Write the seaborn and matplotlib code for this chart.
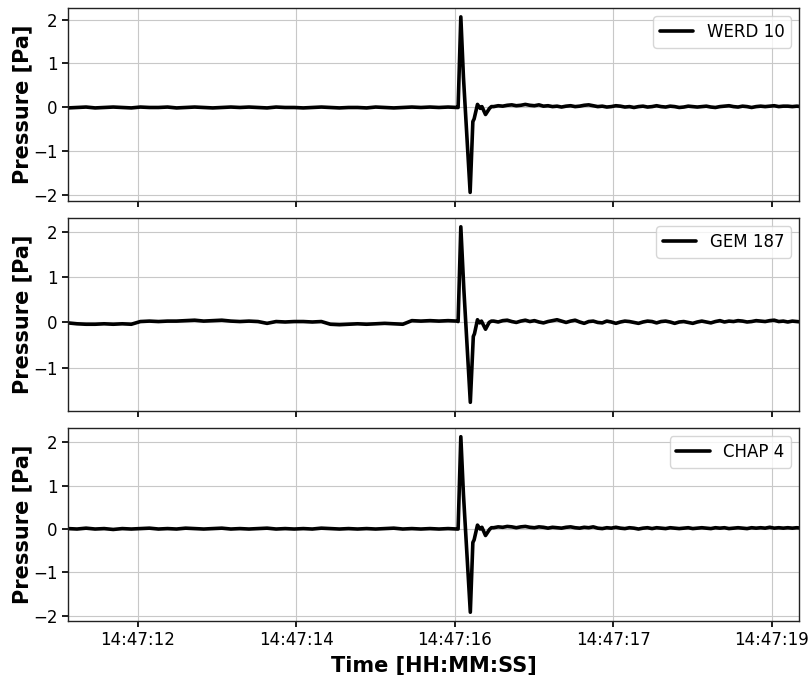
import numpy as np
import pandas as pd
import matplotlib
matplotlib.use("Agg")
import matplotlib.pyplot as plt
import seaborn as sns

# ---------------- data (seconds after 14:47:00, pressure in Pa) ----------------
stations = ["WERD 10", "GEM 187", "CHAP 4"]

pre_start, pre_step = 11.226, 0.1
post_start, post_step = 15.93, 0.05

werd_pre = [-0.01, 0.00, 0.01, -0.01, 0.00, 0.01, 0.00, -0.01, 0.01, 0.00, 0.00,
            0.01, -0.01, 0.00, 0.01, 0.00, -0.01, 0.00, 0.01, 0.00, 0.01, 0.00,
            -0.01, 0.01, 0.00, 0.00, -0.01, 0.00, 0.01, 0.00, -0.01, 0.00, 0.00,
            -0.01, 0.01, 0.00, -0.01, 0.00, 0.01, 0.00, 0.01, 0.00, 0.01, 0.00]
werd_pulse_t = [15.537, 15.567, 15.596, 15.670, 15.700, 15.714, 15.751, 15.781,
                15.800, 15.840, 15.884, 15.905]
werd_pulse_v = [0.00, 2.06, 0.69, -1.93, -0.32, -0.26, 0.07, -0.02, 0.02, -0.16,
                -0.02, 0.02]
werd_post = [0.02, 0.04, 0.03, 0.05, 0.06, 0.04, 0.05, 0.07, 0.05, 0.04, 0.06,
             0.03, 0.04, 0.02, 0.03, 0.01, 0.03, 0.04, 0.02, 0.03, 0.05, 0.06,
             0.04, 0.02, 0.03, 0.01, 0.02, 0.04, 0.03, 0.01, 0.02, 0.00, 0.02,
             0.03, 0.01, 0.02, 0.04, 0.02, 0.01, 0.03, 0.02, 0.00, 0.01, 0.03,
             0.02, 0.01, 0.02, 0.03, 0.01, 0.00, 0.02, 0.03, 0.04, 0.02, 0.01,
             0.03, 0.02, 0.00, 0.02, 0.03, 0.02, 0.03, 0.04, 0.02, 0.03, 0.03,
             0.02, 0.03, 0.02]

gem_pre = [-0.01, -0.03, -0.04, -0.04, -0.03, -0.04, -0.03, -0.04, 0.02, 0.03,
           0.02, 0.03, 0.03, 0.04, 0.05, 0.03, 0.04, 0.05, 0.03, 0.02, 0.03,
           0.02, -0.02, 0.02, 0.01, 0.02, 0.02, 0.01, 0.02, -0.04, -0.05, -0.04,
           -0.03, -0.04, -0.03, -0.02, -0.03, -0.04, 0.04, 0.03, 0.04, 0.03,
           0.04, 0.03]
gem_pulse_t = [15.537, 15.567, 15.600, 15.672, 15.705, 15.718, 15.751, 15.775,
               15.795, 15.840, 15.880, 15.905]
gem_pulse_v = [0.02, 2.12, 0.75, -1.77, -0.31, -0.25, 0.06, -0.01, 0.03, -0.15,
               0.00, 0.03]
gem_post = [0.03, 0.01, 0.04, 0.05, 0.02, 0.00, 0.03, 0.05, 0.02, 0.04, 0.01,
            -0.01, 0.02, 0.04, 0.06, 0.03, 0.00, 0.03, 0.05, 0.01, -0.02, 0.02,
            0.03, 0.00, -0.01, 0.03, 0.01, -0.02, 0.01, 0.03, 0.02, 0.00, -0.02,
            0.01, 0.03, 0.02, -0.01, 0.02, 0.03, 0.01, -0.02, 0.01, 0.02, 0.00,
            -0.02, 0.01, 0.03, 0.01, -0.01, 0.02, 0.04, 0.01, 0.03, 0.02, 0.04,
            0.03, 0.01, 0.02, 0.04, 0.03, 0.02, 0.04, 0.05, 0.02, 0.03, 0.01,
            0.03, 0.02, 0.01]

chap_pre = [0.01, 0.00, 0.02, 0.00, 0.01, -0.01, 0.01, 0.00, 0.01, 0.02, 0.00,
            0.01, 0.00, 0.02, 0.01, 0.00, 0.01, 0.02, 0.00, 0.01, 0.00, 0.01,
            0.02, 0.00, 0.01, 0.00, 0.01, 0.00, 0.02, 0.01, 0.00, 0.01, 0.00,
            0.01, 0.00, 0.01, 0.02, 0.00, 0.01, 0.00, 0.01, 0.00, 0.01, 0.00]
chap_pulse_t = [15.537, 15.567, 15.596, 15.672, 15.700, 15.714, 15.751, 15.780,
                15.800, 15.840, 15.884, 15.905]
chap_pulse_v = [0.00, 2.13, 0.80, -1.92, -0.31, -0.25, 0.09, 0.00, 0.04, -0.15,
                -0.01, 0.03]
chap_post = [0.03, 0.05, 0.04, 0.06, 0.05, 0.03, 0.05, 0.06, 0.04, 0.03, 0.05,
             0.04, 0.02, 0.04, 0.03, 0.02, 0.04, 0.05, 0.03, 0.02, 0.04, 0.03,
             0.05, 0.02, 0.01, 0.03, 0.02, 0.04, 0.02, 0.01, 0.03, 0.02, 0.00,
             0.02, 0.03, 0.01, 0.03, 0.02, 0.01, 0.03, 0.02, 0.01, 0.02, 0.03,
             0.01, 0.02, 0.03, 0.02, 0.01, 0.03, 0.02, 0.03, 0.01, 0.02, 0.03,
             0.02, 0.01, 0.03, 0.02, 0.03, 0.02, 0.04, 0.02, 0.03, 0.02, 0.03,
             0.02, 0.03, 0.02]

tick_pos = [12.0, 13.75, 15.5, 17.25, 19.0]
tick_labels = ["14:47:12", "14:47:14", "14:47:16", "14:47:17", "14:47:19"]
x_limits = (11.226, 19.307)

series = [
    (werd_pre, werd_pulse_t, werd_pulse_v, werd_post),
    (gem_pre, gem_pulse_t, gem_pulse_v, gem_post),
    (chap_pre, chap_pulse_t, chap_pulse_v, chap_post),
]


def build_frame(pre, pulse_t, pulse_v, post):
    t_pre = pre_start + pre_step * np.arange(len(pre))
    t_post = post_start + post_step * np.arange(len(post))
    t = np.concatenate([t_pre, np.array(pulse_t), t_post])
    v = np.concatenate([np.array(pre), np.array(pulse_v), np.array(post)])
    return pd.DataFrame({"time": t, "pressure": v})


# ---------------- plotting ----------------
sns.set_theme(style="ticks")
plt.rcParams["font.family"] = ["DejaVu Sans"]
plt.rcParams["text.color"] = "black"
plt.rcParams["axes.labelcolor"] = "black"

fig = plt.figure(figsize=(8.09, 6.75), dpi=100)
left, width = 0.084, 0.904
bottoms = [0.702, 0.391, 0.080]
height = 0.286

axes = []
for i, (name, data) in enumerate(zip(stations, series)):
    ax = fig.add_axes([left, bottoms[i], width, height],
                      sharex=axes[0] if axes else None)
    df = build_frame(*data)
    sns.lineplot(data=df, x="time", y="pressure", ax=ax, color="black",
                 linewidth=2.6, label=name, sort=False)
    ax.grid(True, color="#c8c8c8", linewidth=0.8)
    ax.set_axisbelow(True)
    for sp in ax.spines.values():
        sp.set_color("#222222")
        sp.set_linewidth(1.0)
    ax.margins(y=0.05)
    ax.set_ylabel("Pressure [Pa]", fontsize=15, fontweight="bold",
                  color="black")
    ax.tick_params(axis="both", labelsize=12, colors="black", length=4)
    leg = ax.legend(loc="upper right", fontsize=12, handlelength=2.0,
                    framealpha=0.8, edgecolor="#cccccc")
    for txt in leg.get_texts():
        txt.set_color("black")
    ax.set_xlabel("")
    axes.append(ax)

for ax in axes:
    ax.relim()
    ax.autoscale_view(scalex=False)
    lo, hi = ax.get_ylim()
    ax.set_yticks([v for v in [-2, -1, 0, 1, 2] if lo <= v <= hi])
    ax.yaxis.set_label_coords(-0.049, 0.5)

axes[-1].set_xlim(*x_limits)
axes[-1].set_xticks(tick_pos)
axes[-1].set_xticklabels(tick_labels)
for ax in axes[:-1]:
    ax.tick_params(axis="x", labelbottom=False)
axes[-1].set_xlabel("Time [HH:MM:SS]", fontsize=15, fontweight="bold",
                    color="black")

fig.savefig("out.png", dpi=100)
